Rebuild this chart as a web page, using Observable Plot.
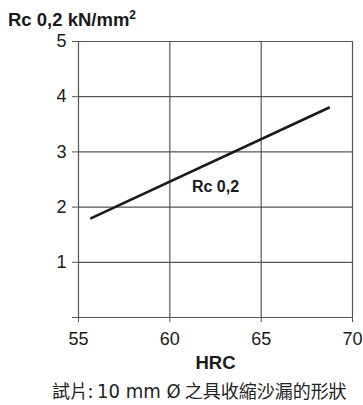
<!DOCTYPE html>
<html>
<head>
<meta charset="utf-8">
<script src="https://cdn.jsdelivr.net/npm/d3@7"></script>
<script src="https://cdn.jsdelivr.net/npm/@observablehq/plot@0.6"></script>
<style>
  html, body { margin: 0; padding: 0; background: #fff; }
  body { width: 363px; height: 405px; overflow: hidden; font-family: "Liberation Sans", Arial, sans-serif; color: #1a1a1a; }
  #title { height: 30px; box-sizing: border-box; padding-top: 11px; padding-left: 8px; font-size: 18.5px; font-weight: bold; line-height: 18px; white-space: nowrap; }
  #title sup { font-size: 12px; line-height: 0; vertical-align: 7px; }
  #chart svg { display: block; }
  #caption { margin-top: 1px; height: 22px; line-height: 22px; padding-left: 52px; font-family: "Noto Sans CJK TC", "Noto Sans CJK SC", sans-serif; font-size: 18px; color: #222; white-space: nowrap; }
  #caption .lat { font-family: "DejaVu Sans Condensed", "DejaVu Sans", sans-serif; font-size: 20px; }
</style>
</head>
<body>
<div id="title">Rc 0,2 kN/mm<sup>2</sup></div>
<div id="chart"></div>
<div id="caption">試片: <span class="lat">10 mm Ø</span> 之具收縮沙漏的形狀</div>
<script>
// Data
const hrc = [55.7, 68.7];
const rc = [1.8, 3.8];
const xTicks = [55, 60, 65, 70];
const yTicks = [0, 1, 2, 3, 4, 5];
const seriesLabel = "Rc 0,2";
const labelPos = {x: 62.5, y: 2.36};
const xTitle = "HRC";

const data = hrc.map((h, i) => ({hrc: h, rc: rc[i]}));

const plot = Plot.plot({
  width: 363,
  height: 348,
  marginTop: 11,
  marginBottom: 61,
  marginLeft: 78,
  marginRight: 11,
  style: {fontFamily: "'Liberation Sans', Arial, sans-serif", fontSize: "18px", color: "#1a1a1a", background: "#fff"},
  x: {domain: [55, 70]},
  y: {domain: [0, 5]},
  marks: [
    Plot.ruleY(yTicks, {stroke: "#555", strokeWidth: 1.2}),
    Plot.ruleX(xTicks, {stroke: "#555", strokeWidth: 1.2}),
    Plot.axisY({ticks: yTicks, tickSize: 6, tickPadding: 6, tickFormat: d => d === 0 ? "" : String(d), label: null, stroke: "#555", fontSize: 18}),
    Plot.axisX({ticks: xTicks, tickSize: 5, tickPadding: 10, tickFormat: d => String(d), label: null, stroke: "#555", fontSize: 18}),
    Plot.text([xTitle], {frameAnchor: "bottom", text: d => d, dy: 51, fontWeight: "bold", fontSize: 18.5, fill: "#1a1a1a"}),
    Plot.line(data, {x: "hrc", y: "rc", stroke: "#1a1a1a", strokeWidth: 2.7}),
    Plot.text([labelPos], {x: "x", y: "y", text: () => seriesLabel, fontWeight: "bold", fontSize: 16, fill: "#1a1a1a"})
  ]
});
document.getElementById("chart").appendChild(plot);
</script>
</body>
</html>
